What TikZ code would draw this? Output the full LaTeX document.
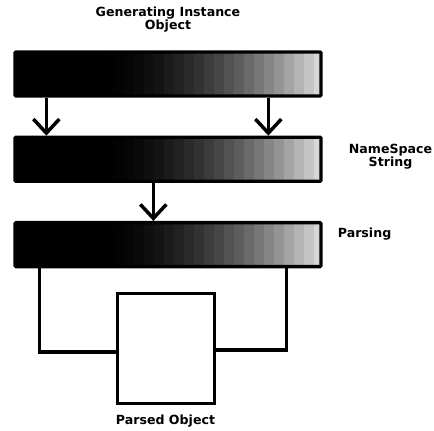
\documentclass[tikz,border=0pt]{standalone}
\usepackage{fontspec}
\setmainfont{DejaVu Sans}
\usepackage{tikz}
\usetikzlibrary{positioning,arrows.meta}

\tikzset{
   bar/.style={draw, line width=3.3pt, rounded corners=1pt, inner sep=0,
      minimum width=306pt, minimum height=44pt,
      path picture={
         \fill[black] (path picture bounding box.south west) rectangle ++(80pt,50pt);
         \foreach \i in {0,...,22}{
            \pgfmathsetmacro\shade{100-88*((\i+0.5)/23)^1.9}
            \fill[black!\shade] ([xshift=79pt+\i*10pt]path picture bounding box.south west) rectangle ++(10.5pt,50pt);
         }
      }},
   caption/.style={font=\bfseries\fontsize{12.6}{12}\selectfont, align=center, inner sep=0},
   flow/.style={line width=3.5pt, -{Straight Barb[length=14pt,width=26pt]}},
   wire/.style={line width=3.5pt, line cap=rect}
}

\begin{document}
\begin{tikzpicture}[x=1pt,y=-1pt]
\useasboundingbox (0,0) rectangle (434,431);

\node[bar] (gen) at (168,74) {};
\node[bar, below=38pt of gen] (ns) {};
\node[bar, below=38pt of ns] (parse) {};
\node[draw, line width=3pt, minimum width=97pt, minimum height=110pt] (obj) at (165.5,348) {};

% labels
\node[caption, above=18pt of gen] (genlbl) {Generating Instance\\Object};
\node[caption, right=26pt of ns, yshift=3pt] (nslbl) {NameSpace\\String};
\node[caption, right=15pt of parse, yshift=11pt] (parselbl) {Parsing};
\node[caption, below=10pt of obj] (objlbl) {Parsed Object};

% arrows
\draw[flow] ([xshift=33pt]gen.south west) -- ([xshift=33pt]ns.north west);
\draw[flow] ([xshift=255pt]gen.south west) -- ([xshift=255pt]ns.north west);
\draw[flow] ([xshift=140pt]ns.south west) -- ([xshift=140pt]parse.north west);

% into the parsed object
\draw[wire] ([xshift=26pt]parse.south west) |- ([yshift=-4pt]obj.west);
\draw[wire] ([xshift=273pt]parse.south west) |- ([yshift=-2pt]obj.east);
\end{tikzpicture}
\end{document}
